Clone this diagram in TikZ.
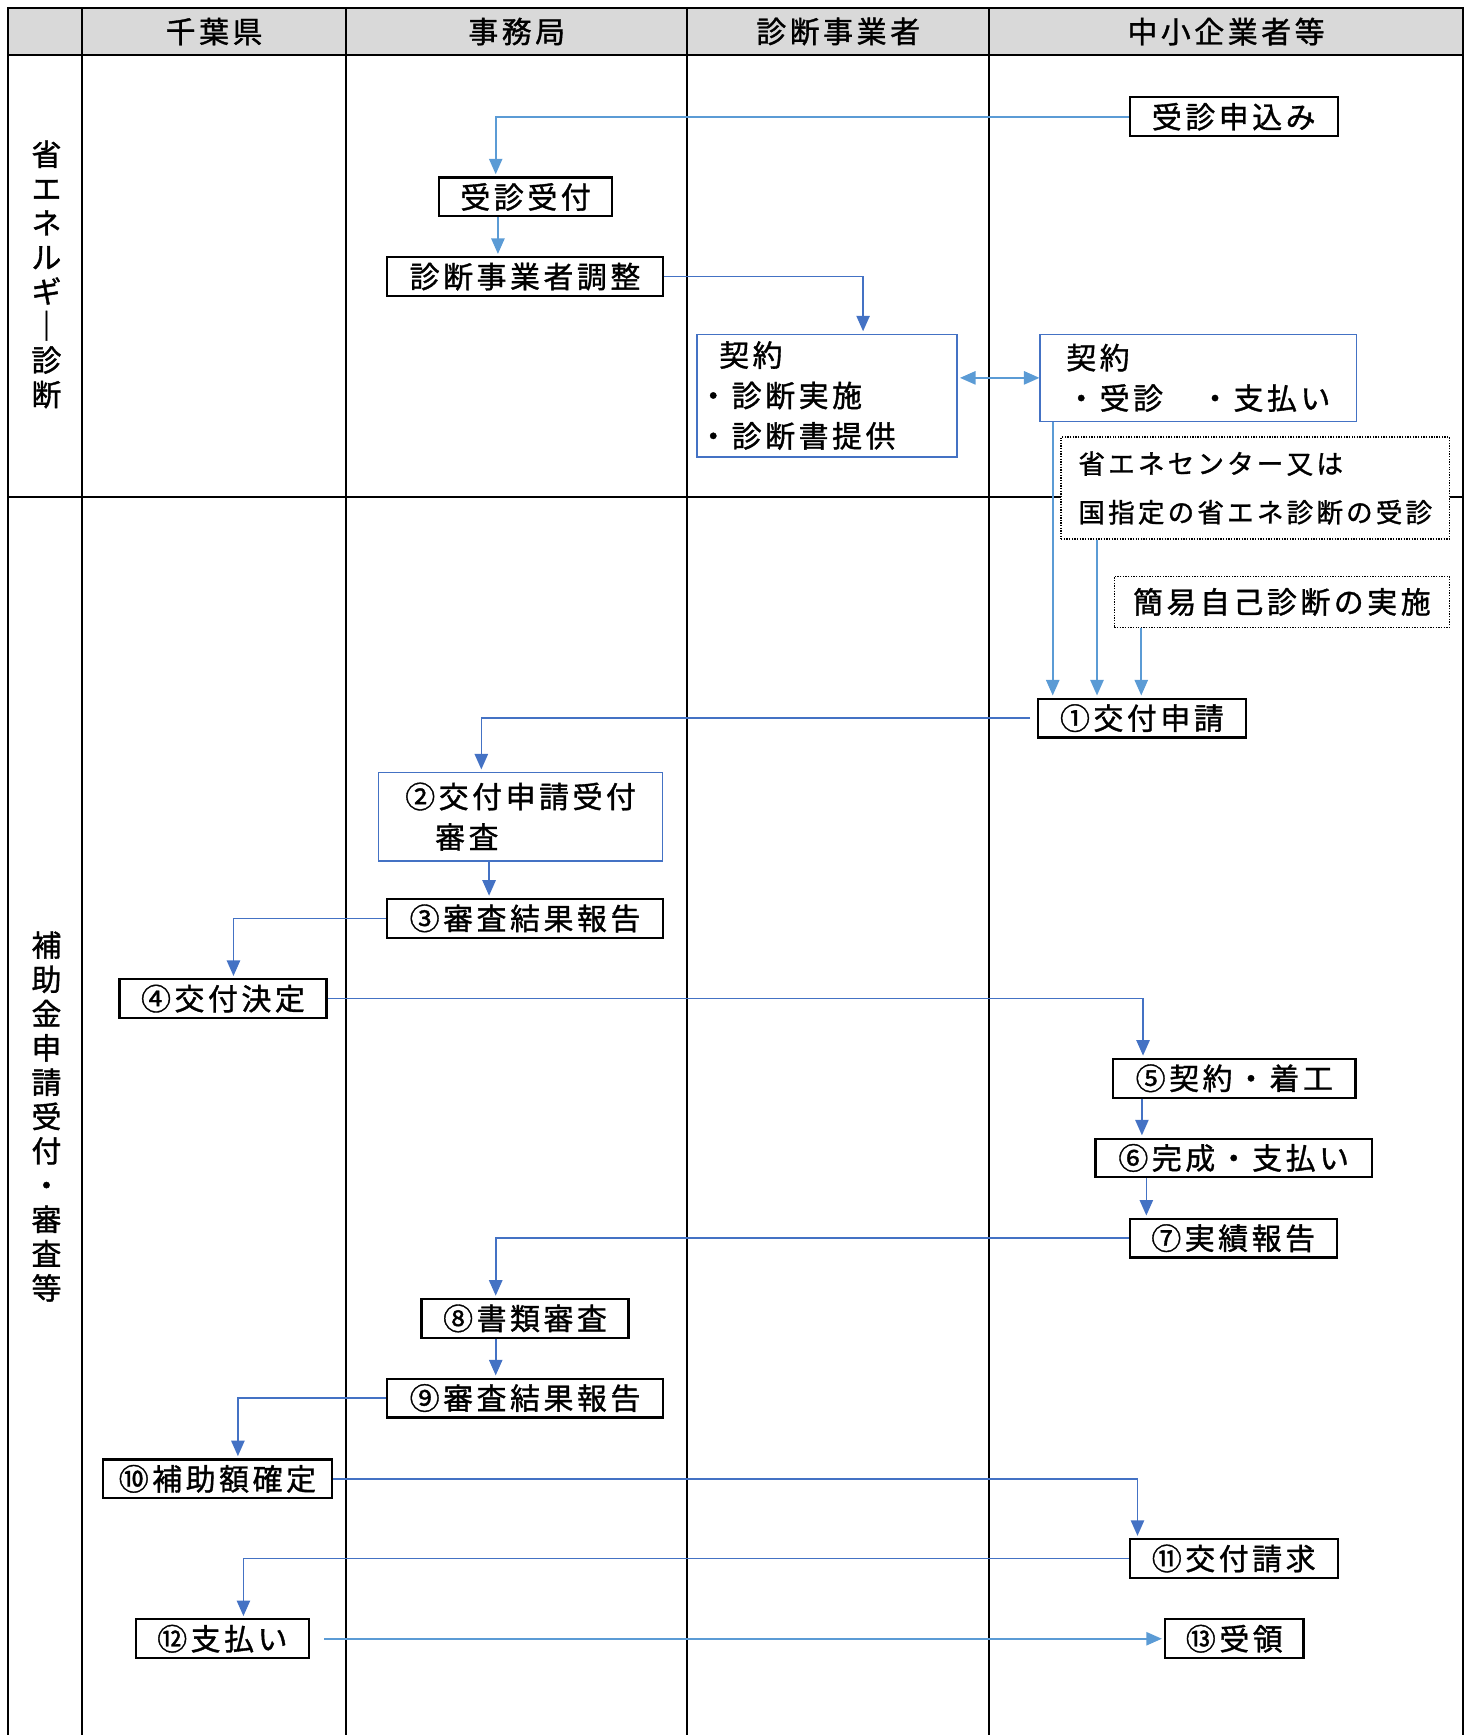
\documentclass[tikz,border=0pt]{standalone}
\usepackage{fontspec}
\setmainfont{Noto Sans CJK JP}[LetterSpace=12, FakeBold=1.2]
\usetikzlibrary{arrows.meta}
\definecolor{lineaclara}{HTML}{5B9BD5}
\definecolor{lineaoscura}{HTML}{4472C4}
\definecolor{cabecera}{HTML}{D9D9D9}

\begin{document}
\begin{tikzpicture}[x=0.5pt, y=-0.5pt,
    >={Triangle[length=7pt,width=6pt]},
    every node/.style={font=\fontsize{13.5}{18.25}\selectfont},
    caja/.style={draw, line width=1pt, minimum height=17.5pt, inner sep=1pt},
    cajaazul/.style={draw=lineaoscura, line width=0.6pt, align=left, inner ysep=2pt},
    cajapunto/.style={draw, fill=white, line width=0.6pt,
                      dash pattern=on 0.6pt off 0.6pt, align=left},
    vertical/.style={align=center, font=\fontsize{13.5}{15.5}\selectfont},
    clara/.style={->, draw=lineaclara, line width=0.75pt, shorten >=1pt},
    oscura/.style={clara, draw=lineaoscura}]

    \useasboundingbox (0,0) rectangle (1330,1568);

    % Dibujamos la tabla.
    \fill[cabecera] (7,7) rectangle (1322,50);
    \draw[line width=1pt] (7,1568) -- (7,7) -- (1322,7) -- (1322,1568);
    \foreach \x in {74,313,621,894}
        \draw[line width=1pt] (\x,7) -- (\x,1568);
    \foreach \y in {50,449}
        \draw[line width=1pt] (7,\y) -- (1322,\y);

    % Asignamos las cabeceras.
    \node (ken) at (193.5,28.5) {千葉県};
    \node (jimu) at (467,28.5) {事務局};
    \node (shin) at (757.5,28.5) {診断事業者};
    \node (chu) at (1108,28.5) {中小企業者等};
    \node[vertical] (fila1) at (42,248) {省\\エ\\ネ\\ル\\ギ\\｜\\診\\断};
    \node[vertical] (fila2) at (42,1009)
        {補\\助\\金\\申\\請\\受\\付\\・\\審\\査\\等};

    % Asignamos las cajas.
    \node[caja, minimum width=94pt] (apply) at (1115,105.5) {受診申込み};
    \node[caja, minimum width=78pt] (recv) at (475,178) {受診受付};
    \node[caja, minimum width=124.5pt] (adjust) at (474.5,250) {診断事業者調整};
    \node[cajaazul, inner xsep=10pt, text width=97.5pt, minimum height=55.5pt]
        (diag) at (747.5,357.5)
        {契約\\\hspace*{-0.7em}・診断実施\\\hspace*{-0.7em}・診断書提供};
    \node[cajaazul, minimum width=143pt, minimum height=39.5pt] (contract)
        at (1083,341.5) {契約\\・受診　・支払い};
    \node[cajapunto, minimum width=175.5pt, minimum height=46pt,
          font=\fontsize{12}{22}\selectfont] (center)
        at (1134.5,441) {省エネセンター又は\\国指定の省エネ診断の受診};
    \node[cajapunto, minimum width=151.5pt, minimum height=23pt] (self)
        at (1158.5,544) {簡易自己診断の実施};
    \node[caja, minimum width=94pt] (app1) at (1032,649) {①交付申請};
    \node[cajaazul, minimum width=128.5pt, minimum height=40pt] (rev2)
        at (470.5,738) {②交付申請受付\\\hphantom{②}審査};
    \node[caja, minimum width=124.5pt] (rep3) at (474.5,830) {③審査結果報告};
    \node[caja, minimum width=93.5pt] (dec4) at (201.5,902.5) {④交付決定};
    \node[caja, minimum width=109.5pt] (start5) at (1115.5,974.5) {⑤契約・着工};
    \node[caja, minimum width=125pt] (done6) at (1115,1046.5) {⑥完成・支払い};
    \node[caja, minimum width=93.5pt] (rep7) at (1114.5,1119) {⑦実績報告};
    \node[caja, minimum width=93.5pt] (doc8) at (474.5,1191.5) {⑧書類審査};
    \node[caja, minimum width=124.5pt] (rep9) at (474.5,1263.5) {⑨審査結果報告};
    \node[caja, minimum width=103.5pt] (fix10) at (196.5,1336.5) {⑩補助額確定};
    \node[caja, minimum width=94pt] (req11) at (1115,1408.5) {⑪交付請求};
    \node[caja, minimum width=78pt] (pay12) at (201,1481) {⑫支払い};
    \node[caja, minimum width=62.5pt] (get13) at (1115.5,1481) {⑬受領};

    % Dibujamos las flechas.
    \draw[clara] (apply.west) -| ([xshift=-13.5pt]recv.north);
    \draw[clara] ([xshift=-12.5pt]recv.south)
        -- ([xshift=-12.5pt]recv.south |- adjust.north);
    \draw[oscura] (adjust.east) -| ([xshift=16.25pt]diag.north);
    \draw[clara, <->] (contract.west) -- (contract.west -| diag.east);
    \draw[clara] ([xshift=6pt]contract.south west)
        -- ([xshift=6pt]contract.south west |- app1.north);
    \draw[clara] ([xshift=16.5pt]center.south west)
        -- ([xshift=16.5pt]center.south west |- app1.north);
    \draw[clara] ([xshift=12.5pt]self.south west)
        -- ([xshift=12.5pt]self.south west |- app1.north);
    \draw[oscura] ([xshift=-3pt]app1.west) -| ([xshift=-17.75pt]rev2.north);
    \draw[oscura] ([xshift=-14.25pt]rev2.south)
        -- ([xshift=-14.25pt]rev2.south |- rep3.north);
    \draw[oscura] (rep3.west) -| ([xshift=4.75pt]dec4.north);
    \draw[oscura] (dec4.east) -| ([xshift=-41.25pt]start5.north);
    \draw[oscura] ([xshift=-41.75pt]start5.south)
        -- ([xshift=-41.75pt]start5.south |- done6.north);
    \draw[oscura] ([xshift=-39.5pt]done6.south)
        -- ([xshift=-39.5pt]done6.south |- rep7.north);
    \draw[oscura] (rep7.west) -| ([xshift=-13.25pt]doc8.north);
    \draw[oscura] ([xshift=-13.25pt]doc8.south)
        -- ([xshift=-13.25pt]doc8.south |- rep9.north);
    \draw[oscura] (rep9.west) -| ([xshift=9.25pt]fix10.north);
    \draw[oscura] (fix10.east) -| ([xshift=-43.5pt]req11.north);
    \draw[oscura] (req11.west) -| ([xshift=9.5pt]pay12.north);
    \draw[clara] ([xshift=6.5pt]pay12.east) -- (get13.west);

\end{tikzpicture}
\end{document}
